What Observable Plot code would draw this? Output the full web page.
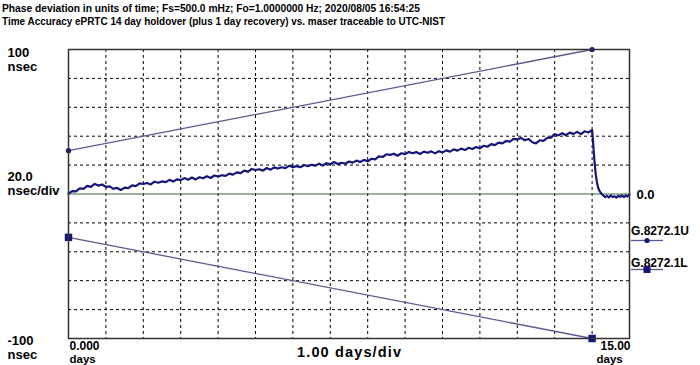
<!DOCTYPE html>
<html><head><meta charset="utf-8">
<script src="https://cdn.jsdelivr.net/npm/d3@7"></script>
<script src="https://cdn.jsdelivr.net/npm/@observablehq/plot@0.6"></script>
<style>
html,body{margin:0;padding:0;background:#fff;}
#head{display:block}
#chart svg{display:block}
</style></head><body>
<svg id="head" width="700" height="34"></svg>
<div id="chart"></div>
<script>
const titleLines = [
  "Phase deviation in units of time;   Fs=500.0 mHz; Fo=1.0000000 Hz; 2020/08/05 16:54:25",
  "Time Accuracy ePRTC 14 day holdover (plus 1 day recovery) vs. maser traceable to UTC-NIST"
];
const maskDays = [0, 14];
const upperMask = [30, 100];
const lowerMask = [-30, -100];
const legendNames = ["G.8272.1U", "G.8272.1L"];
const gridDays = [1,2,3,4,5,6,7,8,9,10,11,12,13,14];
const gridNs = [-80,-60,-40,-20,20,40,60,80];
// [days, nsec]
const phase = [
[0.0,0.2],[0.1,2.0],[0.2,1.8],[0.3,3.9],[0.4,3.5],[0.5,5.6],[0.6,4.9],[0.7,7.0],[0.8,5.8],[0.9,6.6],
[1.0,4.9],[1.1,5.3],[1.2,3.6],[1.3,4.2],[1.4,2.8],[1.5,4.4],[1.6,4.1],[1.7,6.0],[1.8,5.5],[1.9,7.4],
[2.0,6.9],[2.1,7.6],[2.2,6.6],[2.3,8.5],[2.4,7.8],[2.5,8.7],[2.6,8.2],[2.7,9.8],[2.8,8.6],[2.9,10.1],
[3.0,9.6],[3.1,11.0],[3.2,9.9],[3.3,11.4],[3.4,10.1],[3.5,11.6],[3.6,10.9],[3.7,12.3],[3.8,11.1],[3.9,12.8],
[4.0,12.1],[4.1,13.0],[4.2,12.5],[4.3,14.1],[4.4,13.4],[4.5,15.0],[4.6,14.4],[4.7,16.2],[4.8,15.5],[4.9,17.3],
[5.0,16.6],[5.1,17.1],[5.2,16.2],[5.3,18.0],[5.4,16.8],[5.5,18.4],[5.6,17.6],[5.7,18.5],[5.8,17.9],[5.9,19.5],
[6.0,18.6],[6.1,19.3],[6.2,18.5],[6.3,20.1],[6.4,19.3],[6.5,20.2],[6.6,19.6],[6.7,21.0],[6.8,19.7],[6.9,21.3],
[7.0,20.6],[7.1,22.1],[7.2,20.7],[7.3,21.6],[7.4,20.9],[7.5,22.5],[7.6,21.7],[7.7,23.1],[7.8,22.2],[7.9,23.6],
[8.0,22.6],[8.1,24.4],[8.2,24.0],[8.3,26.0],[8.4,25.6],[8.5,27.5],[8.6,27.1],[8.7,27.9],[8.8,26.5],[8.9,28.2],
[9.0,27.6],[9.1,29.1],[9.2,28.2],[9.3,29.0],[9.4,27.7],[9.5,29.3],[9.6,28.5],[9.7,29.5],[9.8,28.1],[9.9,29.6],
[10.0,28.8],[10.1,30.2],[10.2,29.3],[10.3,30.9],[10.4,30.0],[10.5,31.4],[10.6,30.4],[10.7,32.0],[10.8,31.1],[10.9,32.5],
[11.0,31.6],[11.1,33.4],[11.2,32.7],[11.3,34.5],[11.4,33.8],[11.5,35.5],[11.6,35.0],[11.7,36.7],[11.8,36.3],[11.9,38.2],
[12.0,37.8],[12.1,38.8],[12.2,37.2],[12.3,38.1],[12.4,35.8],[12.5,35.0],[12.6,37.2],[12.7,36.8],[12.8,38.9],[12.9,39.0],
[13.0,41.4],[13.1,40.6],[13.2,42.1],[13.3,40.7],[13.4,42.5],[13.5,41.6],[13.6,43.0],[13.7,41.5],[13.8,43.4],[13.9,42.6],
[14.0,44.2],[14.02,38.0],[14.04,31.0],[14.06,24.0],[14.08,18.0],[14.1,13.0],[14.13,8.0],[14.16,4.5],[14.2,2.0],[14.25,0.2],
[14.3,-1.0],[14.35,-2.2],[14.4,-1.3],[14.45,-2.4],[14.5,-1.0],[14.55,-2.1],[14.6,-1.6],[14.65,-2.5],[14.7,-1.2],[14.75,-2.0],
[14.8,-0.9],[14.85,-2.2],[14.9,-1.0],[14.95,-1.8],[15.0,-0.4]
];

const FONT = "'Liberation Sans', Arial, sans-serif";
const navy = "#16167a";
const maskColor = "#5a5a8c";

// Header (title lines)
const titleLens = [418, 443];
d3.select("#head").selectAll("text").data(titleLines).join("text")
  .attr("x", 2).attr("y", (d, i) => 12 + i * 13)
  .attr("textLength", (d, i) => titleLens[i]).attr("lengthAdjust", "spacingAndGlyphs")
  .attr("font-family", FONT).attr("font-weight", "bold").attr("font-size", 11)
  .text(d => d);

const upper = maskDays.map((d, i) => ({d, v: upperMask[i]}));
const lower = maskDays.map((d, i) => ({d, v: lowerMask[i]}));

const lbl = {textAnchor: "start", lineAnchor: "bottom", fill: "black"};

const chart = Plot.plot({
  width: 700, height: 331,
  marginTop: 15, marginBottom: 27, marginLeft: 68, marginRight: 71,
  x: {domain: [0, 15], axis: null},
  y: {domain: [-100, 100], axis: null},
  style: {fontFamily: FONT, fontWeight: "bold", fontSize: "13px", color: "black", background: "white", overflow: "visible"},
  marks: [
    Plot.gridX(gridDays, {stroke: "black", strokeOpacity: 1, strokeWidth: 1, strokeDasharray: "3,3"}),
    Plot.gridY(gridNs, {stroke: "black", strokeOpacity: 1, strokeWidth: 1, strokeDasharray: "3,3"}),
    Plot.ruleY([0], {stroke: "#2f6a2f", strokeWidth: 1}),
    Plot.line(upper, {x: "d", y: "v", stroke: maskColor, strokeWidth: 1.3}),
    Plot.line(lower, {x: "d", y: "v", stroke: maskColor, strokeWidth: 1.3}),
    Plot.line(phase, {x: d => d[0], y: d => d[1], stroke: navy, strokeWidth: 2.2}),
    Plot.dot(upper, {x: "d", y: "v", r: 2.6, fill: navy, stroke: "none"}),
    Plot.dot(lower, {x: "d", y: "v", symbol: "square", r: 4.2, fill: navy, stroke: "none"}),
    Plot.frame({stroke: "#333", strokeWidth: 1.5}),
    Plot.text(["100"], {...lbl, x: 0, y: 100, dx: -61, dy: 7, fontSize: 13}),
    Plot.text(["nsec"], {...lbl, x: 0, y: 100, dx: -61, dy: 21, fontSize: 13}),
    Plot.text(["20.0"], {...lbl, x: 0, y: 0, dx: -61, dy: -13, fontSize: 13}),
    Plot.text(["nsec/div"], {...lbl, x: 0, y: 0, dx: -61, dy: 1, fontSize: 13}),
    Plot.text(["-100"], {...lbl, x: 0, y: -100, dx: -61, dy: 6, fontSize: 13}),
    Plot.text(["nsec"], {...lbl, x: 0, y: -100, dx: -61, dy: 20, fontSize: 13}),
    Plot.text(["0.000"], {...lbl, x: 0, y: -100, dx: 1, dy: 11, fontSize: 12}),
    Plot.text(["days"], {...lbl, x: 0, y: -100, dx: 1, dy: 24, fontSize: 11.5}),
    Plot.text(["15.00"], {...lbl, textAnchor: "end", x: 15, y: -100, dx: 1, dy: 11, fontSize: 12}),
    Plot.text(["days"], {...lbl, x: 15, y: -100, dx: -33, dy: 24, fontSize: 11.5}),
    Plot.text(["1.00 days/div"], {...lbl, textAnchor: "middle", x: 7.5, y: -100, dy: 18, fontSize: 14.5}),
    Plot.text(["0.0"], {...lbl, lineAnchor: "middle", x: 15, y: 0, dx: 7, dy: 1, fontSize: 13})
  ]
});
document.getElementById("chart").appendChild(chart);

const svg = d3.select(chart);
// slightly widen the x-axis division label toward the reference's span
svg.selectAll("text").filter(function () { return this.textContent === "1.00 days/div"; })
  .attr("textLength", 104).attr("lengthAdjust", "spacing");

// Legend in the right margin
const sx = chart.scale("x"), sy = chart.scale("y");
const xr = sx.apply(15), y0 = sy.apply(0);
const lg = svg.append("g").attr("text-anchor", "start");
legendNames.forEach((name, i) => {
  const ty = y0 + 41 + i * 32;
  const ly = y0 + 47 + i * 29;
  lg.append("text").attr("x", xr + 2).attr("y", ty).attr("text-anchor", "start")
    .attr("font-family", FONT).attr("font-weight", "bold").attr("font-size", 12)
    .attr("fill", "black").text(name);
  lg.append("line").attr("x1", xr + 2).attr("x2", xr + 34).attr("y1", ly).attr("y2", ly)
    .attr("stroke", maskColor).attr("stroke-width", 1.3);
  if (i === 0) lg.append("circle").attr("cx", xr + 18).attr("cy", ly).attr("r", 2.6).attr("fill", navy);
  else lg.append("rect").attr("x", xr + 14.5).attr("y", ly - 3.5).attr("width", 7).attr("height", 7).attr("fill", navy);
});
</script>
</body></html>
